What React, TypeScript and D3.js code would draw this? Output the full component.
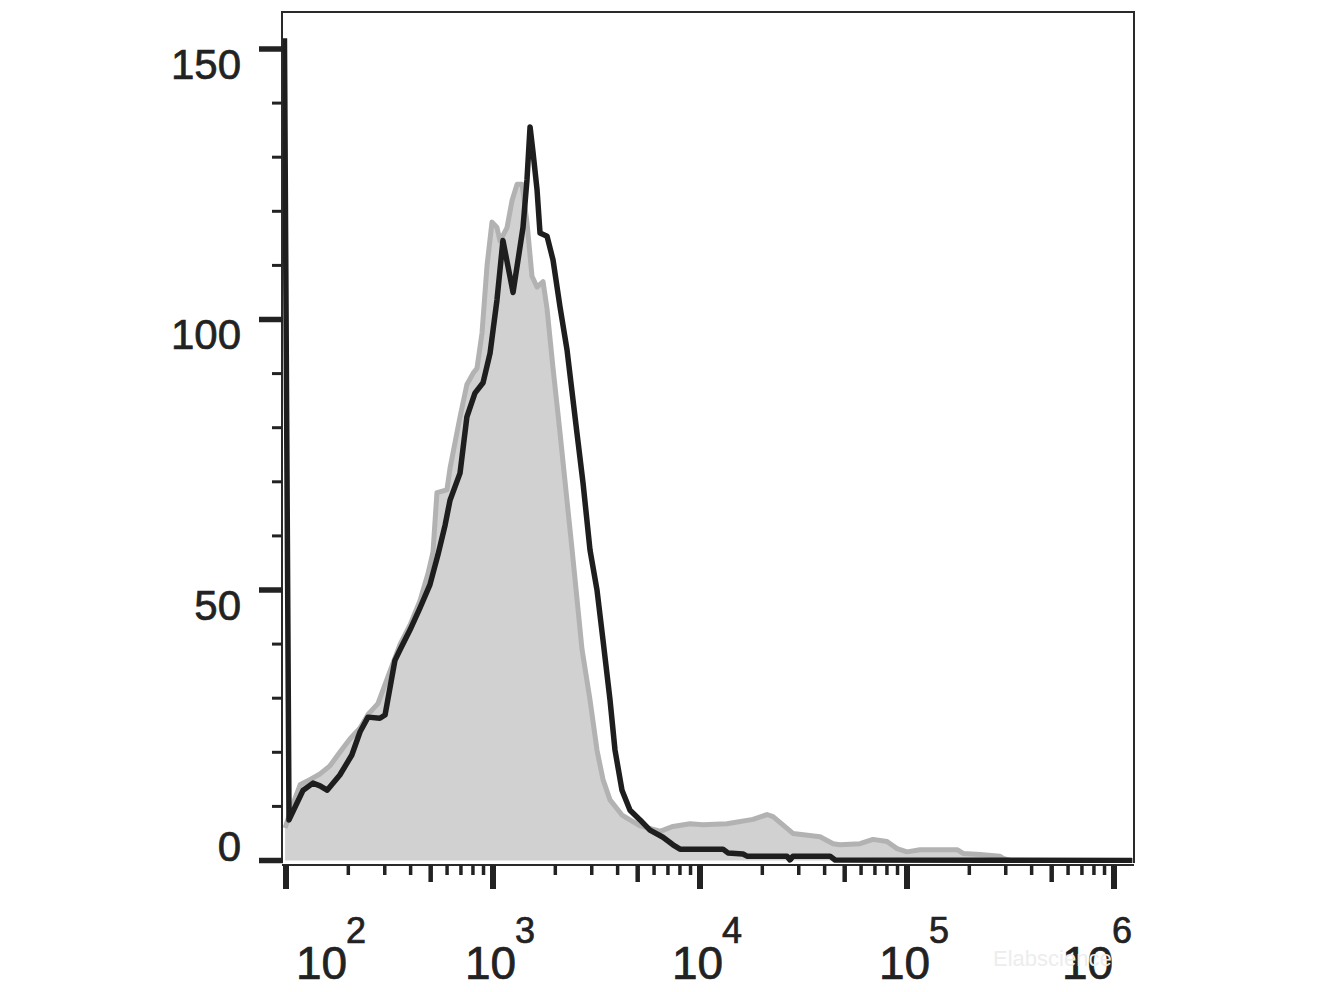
import * as React from "react";
import * as d3 from "d3";

// isotype control (grey filled) : [intensity, events]
const isotypeEvents: [number, number][] = [
  [99, 6], [107, 10], [117, 14], [131, 15], [146, 16], [163, 17.5], [182, 20],
  [204, 22.5], [228, 24.5], [249, 27], [278, 29], [318, 35], [356, 40], [397, 43.5],
  [444, 48], [485, 53], [513, 57], [536, 68], [599, 68.5], [620, 72.5], [693, 82],
  [748, 88], [800, 90], [837, 91], [885, 97.5], [936, 110], [989, 118], [1045, 117],
  [1081, 114.5], [1169, 117], [1236, 122], [1307, 125], [1381, 125], [1459, 118],
  [1543, 108], [1632, 106], [1745, 107], [1824, 102], [1950, 91], [2108, 79],
  [2278, 66.5], [2410, 57.5], [2692, 39], [2942, 29.7], [3180, 20.4], [3398, 15],
  [3675, 11.2], [4199, 8.4], [5134, 6.4], [6407, 5.4], [7406, 6.3], [8950, 6.8],
  [10330, 6.6], [13490, 6.8], [18030, 7.6], [21080, 8.5], [22540, 8.1], [28130, 5.0],
  [38000, 4.4], [43950, 3.1], [47460, 2.9], [59290, 3.1], [68530, 3.9], [80060, 3.5],
  [89500, 2.2], [100000, 1.6], [115600, 2.0], [174600, 2.0], [186700, 1.3],
  [225500, 1.1], [281400, 0.8], [291000, 0.4], [314700, 0], [1250000, 0]
];

// stained sample (black line) : [intensity, events]
const stainedEvents: [number, number][] = [
  [98.3, 152], [103.4, 7.5], [121, 13], [135, 14.3], [146, 13.8], [158, 13],
  [182, 15.8], [208, 19.5], [228, 23.8], [249, 26.5], [284, 26.3], [301, 26.9],
  [336, 37], [356, 39], [397, 42.6], [444, 46.7], [496, 51], [542, 56.5], [587, 62],
  [620, 66.6], [693, 71.6], [748, 82], [818, 86.4], [895, 88.3], [968, 93.8],
  [1045, 103.6], [1117, 114.6], [1250, 105], [1396, 117], [1459, 125.8], [1510, 135.6],
  [1560, 131], [1632, 124], [1687, 116], [1824, 115.4], [1950, 111], [2108, 102.3],
  [2278, 94.4], [2545, 79], [2722, 69.8], [2942, 57.4], [3180, 50], [3398, 40.8],
  [3675, 29.7], [3885, 20.4], [4199, 13], [4592, 9.3], [5134, 7.5], [5732, 5.6],
  [6626, 4.3], [7406, 2.9], [8006, 2.1], [12910, 2.1], [13650, 1.4], [16130, 1.2],
  [16870, 0.8], [26310, 0.8], [27210, 0.1], [28130, 0.8], [42480, 0.8], [44920, 0.1],
  [1222000, 0]
];

const countTicks: number[] = [0, 50, 100, 150];
const countMinorTicks: number[] = [10, 20, 30, 40, 60, 70, 80, 90, 110, 120, 130, 140];
const decades: number[] = [1e2, 1e3, 1e4, 1e5, 1e6];
const decadeExponents: string[] = ["2", "3", "4", "5", "6"];

const WIDTH = 1322;
const HEIGHT = 992;
const FONT = "'Liberation Sans', Arial, sans-serif";
const INK = "#222222";

export default function App(): JSX.Element {
  const x = d3.scaleLog().domain([1e2, 1e6]).range([286, 1114]);
  const y = d3.scaleLinear().domain([0, 150]).range([860.5, 49]);

  const box = { left: 282, top: 12, right: 1134, bottom: 863 };
  const axisY = 865;

  const line = d3.line<[number, number]>()
    .x((d) => x(d[0]))
    .y((d) => y(d[1]));
  const area = d3.area<[number, number]>()
    .x((d) => x(d[0]))
    .y0(y(0))
    .y1((d) => y(d[1]));

  // minor ticks 2..9 for each decade inside the domain
  const minorX: { v: number; mid: boolean }[] = [];
  decades.slice(0, -1).forEach((d) => {
    for (let k = 2; k <= 9; k++) minorX.push({ v: d * k, mid: k === 5 });
  });

  const textStyle = { fontFamily: FONT, fill: INK, stroke: INK, strokeWidth: 0.7 };

  return (
    <svg width={WIDTH} height={HEIGHT} style={{ position: "absolute", left: 0, top: 0, background: "#fff" }}>
      <defs>
        <clipPath id="plot-clip">
          <rect x={box.left} y={box.top} width={box.right - box.left} height={box.bottom - box.top} />
        </clipPath>
      </defs>

      <g clipPath="url(#plot-clip)">
        <path d={area(isotypeEvents) ?? ""} fill="#d1d1d1" stroke="none" />
        <path d={line(isotypeEvents) ?? ""} fill="none" stroke="#b2b2b2" strokeWidth={5} strokeLinejoin="round" />
        <path d={line(stainedEvents) ?? ""} fill="none" stroke="#1e1e1e" strokeWidth={5.5} strokeLinejoin="round" />
      </g>

      {/* frame */}
      <path
        d={`M${box.left},${box.bottom}V${box.top}H${box.right}V${box.bottom}`}
        fill="none" stroke="#2a2a2a" strokeWidth={2}
      />
      <line x1={box.left} x2={box.right} y1={axisY} y2={axisY} stroke="#2a2a2a" strokeWidth={2} />

      {/* y axis */}
      {countMinorTicks.map((t) => (
        <line key={"ym" + t} x1={272} x2={box.left} y1={y(t)} y2={y(t)} stroke={INK} strokeWidth={3} />
      ))}
      {countTicks.map((t) => (
        <g key={"y" + t}>
          <line x1={259} x2={box.left + 1} y1={y(t)} y2={y(t)} stroke={INK} strokeWidth={5.5} />
          <text
            x={241} y={t === 0 ? y(t) : y(t) + 29.5}
            textAnchor="end" fontSize={42} {...textStyle}
          >{t}</text>
        </g>
      ))}

      {/* x axis */}
      {minorX.map((t) => (
        <line
          key={"xm" + t.v} x1={x(t.v)} x2={x(t.v)} y1={axisY} y2={t.mid ? 882 : 875}
          stroke={INK} strokeWidth={t.mid ? 4.5 : 3.5}
        />
      ))}
      {decades.map((d, i) => {
        const px = x(d);
        const start = Math.min(Math.max(px - 28, 296), 1062);
        return (
          <g key={"x" + d}>
            <line x1={px} x2={px} y1={axisY} y2={889} stroke={INK} strokeWidth={6} />
            <text x={start} y={979} fontSize={46} {...textStyle}>10</text>
            <text x={start + 50} y={943} fontSize={36} {...textStyle}>{decadeExponents[i]}</text>
          </g>
        );
      })}

      <text x={993} y={966} fontFamily={FONT} fontSize={22} fill="#ededed">Elabscience</text>
    </svg>
  );
}
